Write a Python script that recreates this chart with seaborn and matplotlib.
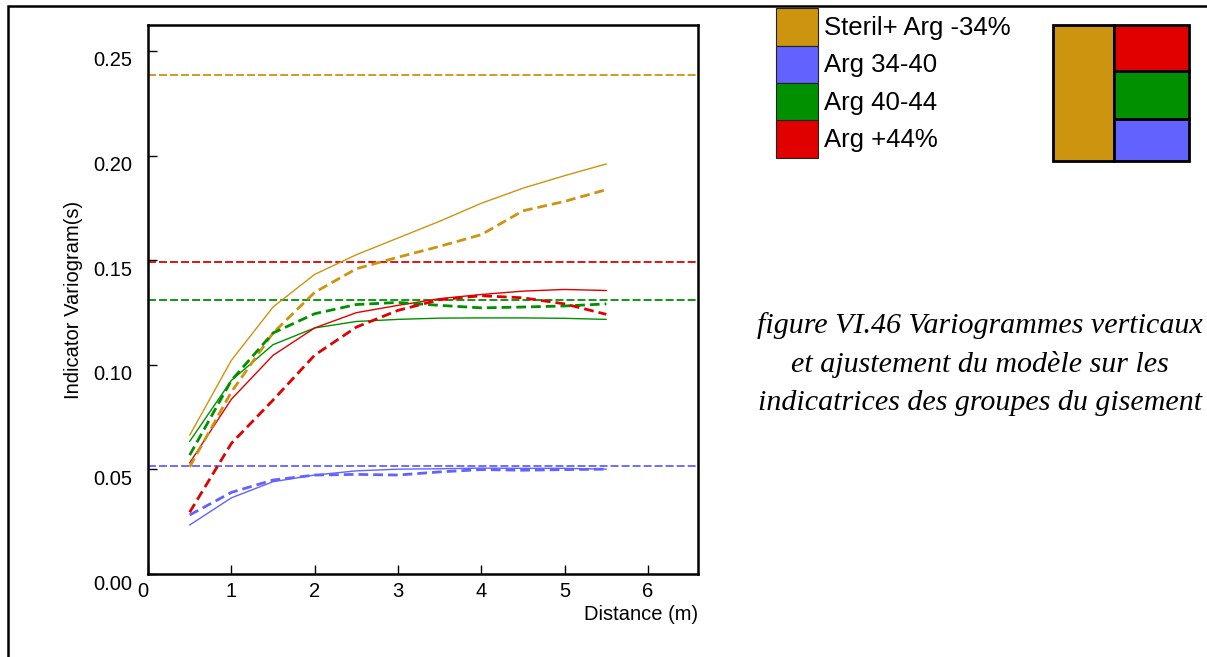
"""
Indicator variograms (vertical) with fitted models for the deposit groups.
"""

import matplotlib
matplotlib.use("Agg")
import matplotlib.pyplot as plt
import matplotlib.transforms as mtransforms
from matplotlib.patches import Rectangle
import numpy as np
import pandas as pd
import seaborn as sns

# lag distances (m)
lags = [0.5, 1.0, 1.5, 2.0, 2.5, 3.0, 3.5, 4.0, 4.5, 5.0, 5.5]

groups = ["Steril+ Arg -34%", "Arg 34-40", "Arg 40-44", "Arg +44%"]
colors = ["#CC940F", "#6262FF", "#009000", "#E00000"]

# experimental variograms (solid thin lines)
exp_steril = [0.0663, 0.1021, 0.1276, 0.1432, 0.1526, 0.1606, 0.1686, 0.1772, 0.1844, 0.1904, 0.1960]
exp_34_40 = [0.0234, 0.0364, 0.0441, 0.0473, 0.0493, 0.0501, 0.0503, 0.0506, 0.0505, 0.0505, 0.0501]
exp_40_44 = [0.0634, 0.0925, 0.1096, 0.1176, 0.1207, 0.1217, 0.1223, 0.1224, 0.1224, 0.1222, 0.1217]
exp_44 = [0.0531, 0.0835, 0.1045, 0.1176, 0.1249, 0.1284, 0.1316, 0.1336, 0.1352, 0.1360, 0.1355]

# fitted models (thick dashed lines)
mod_steril = [0.0512, 0.0870, 0.1152, 0.1346, 0.1459, 0.1514, 0.1566, 0.1622, 0.1736, 0.1781, 0.1837]
mod_34_40 = [0.0282, 0.0390, 0.0449, 0.0473, 0.0476, 0.0473, 0.0488, 0.0499, 0.0496, 0.0499, 0.0501]
mod_40_44 = [0.0568, 0.0925, 0.1152, 0.1244, 0.1288, 0.1298, 0.1284, 0.1272, 0.1276, 0.1281, 0.1291]
mod_44 = [0.0295, 0.0624, 0.0831, 0.1046, 0.1180, 0.1260, 0.1311, 0.1330, 0.1320, 0.1291, 0.1241]

# sills (variance of each indicator)
sills = [0.2385, 0.0518, 0.1308, 0.1491]

y_ticks = [0.00, 0.05, 0.10, 0.15, 0.20, 0.25]
x_ticks = [0, 1, 2, 3, 4, 5, 6]

caption = ["figure VI.46 Variogrammes verticaux",
           "et ajustement du modèle sur les",
           "indicatrices des groupes du gisement"]

exp_vals = [exp_steril, exp_34_40, exp_40_44, exp_44]
mod_vals = [mod_steril, mod_34_40, mod_40_44, mod_44]

rows = []
for g, ev, mv in zip(groups, exp_vals, mod_vals):
    for h, e, m in zip(lags, ev, mv):
        rows.append({"group": g, "lag": h, "exp": e, "model": m})
df = pd.DataFrame(rows)

sns.set_theme(style="white")
plt.rcParams["font.family"] = ["Liberation Sans", "DejaVu Sans"]
plt.rcParams["text.color"] = "black"
plt.rcParams["axes.labelcolor"] = "black"

W, H = 1207, 657
fig = plt.figure(figsize=(W / 100, H / 100), dpi=100)


def fx(px):
    return px / W


def fy(py):
    return 1 - py / H


ax = fig.add_axes([fx(148), fy(574), fx(698) - fx(148), fy(25) - fy(574)])

palette = dict(zip(groups, colors))

# sills first, behind the curves
for g, s in zip(groups, sills):
    ax.axhline(s, color=palette[g], lw=1.3, ls=(0, (4.4, 1.7)))

sns.lineplot(data=df, x="lag", y="exp", hue="group", palette=palette,
             lw=1.0, legend=False, ax=ax, estimator=None)
for g in groups:
    sub = df[df["group"] == g]
    sns.lineplot(data=sub, x="lag", y="model", color=palette[g],
                 lw=2.0, ls=(0, (3.5, 1.8)), legend=False, ax=ax, estimator=None)

ax.set_xlim(0, 6.6)
ax.set_ylim(0, 0.2624)
ax.set_xticks(x_ticks)
ax.set_yticks(y_ticks)
ax.set_xticklabels([str(t) for t in x_ticks])
ax.set_yticklabels([f"{t:.2f}" for t in y_ticks])
ax.tick_params(direction="in", length=6.5, width=1.0, colors="black",
               labelcolor="black", labelsize=14.5, pad=6, bottom=True, left=True)
ax.tick_params(axis="y", pad=11)
for sp in ax.spines.values():
    sp.set_color("black")
    sp.set_linewidth(1.8)
ax.grid(False)

# y tick labels sit a bit below their ticks in the original
shift = mtransforms.ScaledTranslation(0, -8 / 100, fig.dpi_scale_trans)
for lab in ax.get_yticklabels():
    lab.set_transform(lab.get_transform() + shift)
lab0 = ax.get_xticklabels()[0]
lab0.set_transform(lab0.get_transform()
                   + mtransforms.ScaledTranslation(-5 / 100, 0, fig.dpi_scale_trans))

ax.set_xlabel("")
ax.set_ylabel("Indicator Variogram(s)", fontsize=14.5, labelpad=8, color="black")
fig.text(fx(698), fy(615), "Distance (m)", ha="right", va="center", fontsize=14.5)

# legend swatches
row_top = [8, 45.7, 83.3, 120.3]
row_h = 37.5
for g, c, t in zip(groups, colors, row_top):
    fig.add_artist(Rectangle((fx(776), fy(t + row_h)), fx(818) - fx(776),
                             fy(t) - fy(t + row_h), transform=fig.transFigure,
                             facecolor=c, edgecolor="#222222", lw=0.8))
    fig.text(fx(824), fy(t + row_h / 2 + 1), g, ha="left", va="center", fontsize=18.5)

# group layout diagram
lw_box = 2.0
fig.add_artist(Rectangle((fx(1053), fy(160.7)), fx(1114) - fx(1053), fy(25) - fy(160.7),
                         transform=fig.transFigure, facecolor=colors[0],
                         edgecolor="black", lw=lw_box))
for c, t, b in [(colors[3], 25, 71.3), (colors[2], 71.3, 119), (colors[1], 119, 160.7)]:
    fig.add_artist(Rectangle((fx(1114), fy(b)), fx(1189) - fx(1114), fy(t) - fy(b),
                             transform=fig.transFigure, facecolor=c,
                             edgecolor="black", lw=lw_box))

# caption
for i, line in enumerate(caption):
    fig.text(fx(980), fy(326 + i * 38.5), line, ha="center", va="center",
             fontsize=21.6, style="italic", family=["Liberation Serif", "DejaVu Serif"])

# outer frame
fig.add_artist(Rectangle((fx(8), fy(660)), fx(1215) - fx(8), fy(6) - fy(660),
                         transform=fig.transFigure, facecolor="none",
                         edgecolor="black", lw=1.8))

fig.savefig("out.png", dpi=100)
